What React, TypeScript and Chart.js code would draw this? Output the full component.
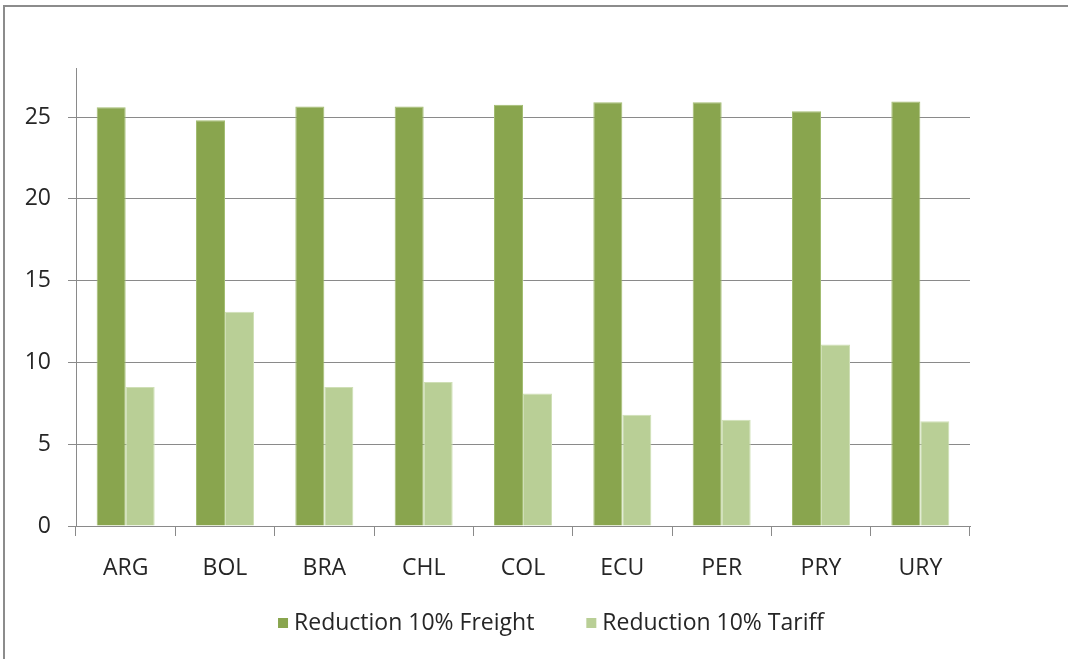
import React, { useEffect, useRef } from "react";
import { Chart, registerables } from "chart.js";

Chart.register(...registerables);

const categories = ["ARG", "BOL", "BRA", "CHL", "COL", "ECU", "PER", "PRY", "URY"];
const freightValues = [25.6, 24.8, 25.65, 25.65, 25.75, 25.9, 25.9, 25.35, 25.95];
const tariffValues = [8.5, 13.1, 8.5, 8.8, 8.1, 6.8, 6.5, 11.1, 6.4];
const seriesNames = ["Reduction 10% Freight", "Reduction 10% Tariff"];
const seriesColors = ["#89a54e", "#b9cf96"];
const seriesBorders = ["#a3bd72", "#cfdfb6"];
const yTicks = [0, 5, 10, 15, 20, 25];

const FONT = "'Open Sans', 'Liberation Sans', sans-serif";
const TEXT = "#262626";
const FS = 23;

const legendPlugin = {
  id: "customLegend",
  afterDraw(chart: any) {
    const ctx = chart.ctx;
    ctx.save();
    ctx.font = `${FS}px ${FONT}`;
    ctx.textBaseline = "middle";
    ctx.textAlign = "left";
    const box = 10;
    const gapText = 6;
    const gapItem = 52;
    const items = chart.data.datasets.map((d: any) => ({
      label: d.label,
      color: d.backgroundColor,
      w: box + gapText + ctx.measureText(d.label).width,
    }));
    const total = items.reduce((a: number, it: any) => a + it.w, 0) + gapItem * (items.length - 1);
    let x = 551 - total / 2;
    const yc = 623;
    items.forEach((it: any) => {
      ctx.fillStyle = it.color;
      ctx.fillRect(x, yc - box / 2, box, box);
      ctx.fillStyle = TEXT;
      ctx.fillText(it.label, x + box + gapText, yc);
      x += it.w + gapItem;
    });
    ctx.restore();
  },
};

export default function App() {
  const ref = useRef<HTMLCanvasElement | null>(null);

  useEffect(() => {
    if (!ref.current) return;
    const chart = new Chart(ref.current, {
      type: "bar",
      data: {
        labels: categories,
        datasets: seriesNames.map((name, i) => ({
          label: name,
          data: i === 0 ? freightValues : tariffValues,
          backgroundColor: seriesColors[i],
          borderColor: seriesBorders[i],
          borderWidth: 1,
          categoryPercentage: 0.584,
          barPercentage: 1,
        })),
      },
      options: {
        responsive: false,
        animation: false,
        layout: { padding: { top: 68, left: 0, right: 98, bottom: 63 } },
        plugins: {
          legend: { display: false },
          tooltip: { enabled: false },
          title: { display: false },
        },
        scales: {
          x: {
            grid: {
              offset: true,
              drawOnChartArea: false,
              drawTicks: true,
              tickLength: 10,
              color: "#8a8a8a",
            },
            border: { display: true, color: "#8a8a8a", width: 1 },
            ticks: {
              color: TEXT,
              font: { family: FONT, size: FS },
              padding: 19,
              maxRotation: 0,
            },
            afterFit: (s: any) => {
              s.height = 70;
            },
          },
          y: {
            min: 0,
            max: 28,
            afterBuildTicks: (s: any) => {
              s.ticks = yTicks.map((v) => ({ value: v }));
            },
            grid: {
              color: "#8a8a8a",
              lineWidth: 1,
              drawTicks: true,
              tickLength: 8,
            },
            border: { display: true, color: "#8a8a8a", width: 1 },
            ticks: {
              color: TEXT,
              font: { family: FONT, size: FS },
              padding: 17,
              includeBounds: false,
            },
            afterFit: (s: any) => {
              s.width = 76;
            },
          },
        },
      },
      plugins: [legendPlugin],
    });
    return () => chart.destroy();
  }, []);

  return (
    <div style={{ position: "fixed", left: 0, top: 0, width: 1068, height: 659, background: "#fff" }}>
      <div
        style={{
          position: "absolute",
          left: 3,
          top: 5,
          width: 1068,
          height: 660,
          borderTop: "2px solid #8c8c8c",
          borderLeft: "2px solid #8c8c8c",
          boxSizing: "border-box",
        }}
      />
      <canvas ref={ref} width={1068} height={659} style={{ position: "absolute", left: 0, top: 0 }} />
    </div>
  );
}
